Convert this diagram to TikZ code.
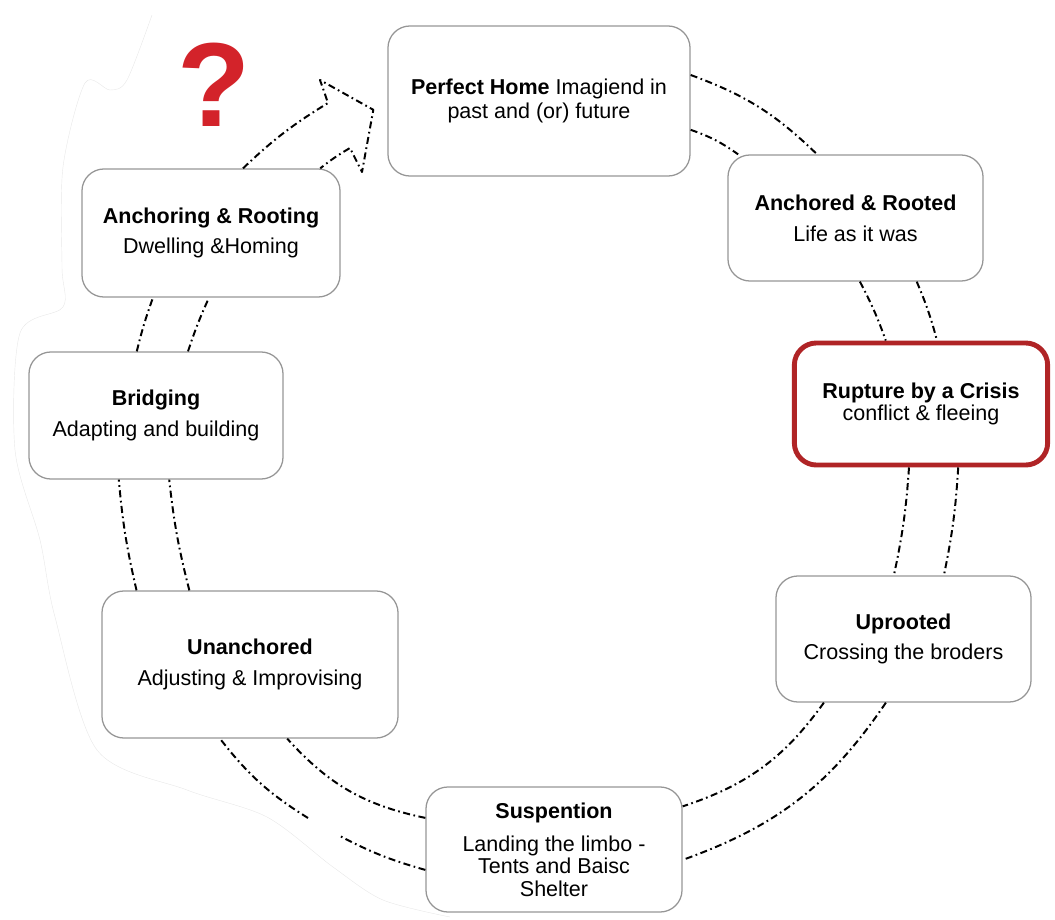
\documentclass[tikz,border=0pt]{standalone}
\usepackage{fontspec}
\setmainfont{Liberation Sans}
\definecolor{qred}{RGB}{211,35,42}
\definecolor{crisisred}{RGB}{176,36,38}
\definecolor{boxgray}{RGB}{150,150,150}

\begin{document}
\begin{tikzpicture}[x=0.025cm,y=-0.025cm,line join=round,
	stage/.style={draw=boxgray,line width=0.9pt,rounded corners=0.55cm,align=center,inner sep=2pt,font=\fontsize{15.3}{15.8}\selectfont},
	link/.style={line width=1.4pt,dash pattern=on 5pt off 2.5pt on 1.2pt off 2.5pt}]
	\useasboundingbox (0,0) rectangle (1055,920);
	% vien mo
	\draw[gray!18,line width=0.3pt] plot[smooth] coordinates {(152,15) (127,80) (110,90) (85,83) (63,167) (62,267) (63,307) (20,333) (15,450) (40,540) (55,617) (97,750) (187,790) (267,817) (333,867) (383,900) (450,917)};
	% cac o
	\node[stage,minimum width=7.55cm,minimum height=3.75cm] (home) at (539,101) {\textbf{Perfect Home} Imagiend in\\[1.5pt]past and (or) future};
	\node[stage,minimum width=6.375cm,minimum height=3.15cm] (anch) at (855.5,218) {\textbf{Anchored \& Rooted}\\[6pt]Life as it was};
	\node[stage,draw=crisisred,line width=3.5pt,minimum width=6.33cm,minimum height=3.05cm] (rupt) at (921,404) {\textbf{Rupture by a Crisis}\\conflict \& fleeing};
	\node[stage,minimum width=6.375cm,minimum height=3.15cm] (upr) at (903.5,639) {\textbf{Uprooted}\\[6pt]Crossing the broders};
	\node[stage,minimum width=6.4cm,minimum height=3.125cm] (susp) at (554,849.5) {\textbf{Suspention}\\[8pt]Landing the limbo -\\Tents and Baisc\\Shelter};
	\node[stage,minimum width=7.4cm,minimum height=3.675cm] (unan) at (250,664.5) {\textbf{Unanchored}\\[6pt]Adjusting \& Improvising};
	\node[stage,minimum width=6.35cm,minimum height=3.175cm] (brid) at (156,415.5) {\textbf{Bridging}\\[6pt]Adapting and building};
	\node[stage,minimum width=6.45cm,minimum height=3.2cm] (ancg) at (211,233) {\textbf{Anchoring \& Rooting}\\[6pt]Dwelling \&Homing};
	\node[text=qred,font=\fontsize{85}{85}\selectfont\bfseries] (qmark) at (214.5,85) {?};
	% vong noi
	\draw[link] ([yshift=0.65cm]home.east) to[bend left=12] ([xshift=-0.96cm]anch.north);
	\draw[link] ([yshift=-0.72cm]home.east) to[bend left=8] ([xshift=0.27cm]anch.north west);
	\draw[link] ([xshift=0.11cm]anch.south) to[bend left=4] ([xshift=-0.88cm]rupt.north);
	\draw[link] ([xshift=1.53cm]anch.south) to[bend left=4] ([xshift=0.4cm]rupt.north);
	\draw[link] ([xshift=-0.3cm]rupt.south) to[bend left=4] ([xshift=-0.24cm]upr.north);
	\draw[link] ([xshift=0.93cm]rupt.south) to[bend left=4] ([xshift=1.01cm]upr.north);
	\draw[link] ([xshift=-1.99cm]upr.south) to[bend left=18] ([yshift=-0.5cm]susp.north east);
	\draw[link] ([xshift=-0.44cm]upr.south) to[bend left=18] ([yshift=-0.26cm]susp.east);
	\coordinate (gapR) at (338,835);
	\coordinate (gapL) at (308,818);
	\draw[link] ([yshift=0.79cm]susp.west) to[bend left=18] ([xshift=0.93cm]unan.south);
	\draw[link] ([yshift=-0.51cm]susp.west) to[bend left=6] (gapR);
	\draw[link] (gapL) to[bend left=10] ([xshift=-0.75cm]unan.south);
	\draw[link] ([xshift=0.88cm]unan.north west) to[bend left=4] ([xshift=-0.93cm]brid.south);
	\draw[link] ([xshift=2.2cm]unan.north west) to[bend left=4] ([xshift=0.33cm]brid.south);
	\draw[link] ([xshift=-0.48cm]brid.north) to[bend left=3] ([xshift=-1.45cm]ancg.south);
	\draw[link] ([xshift=0.8cm]brid.north) to[bend left=3] ([xshift=-0.05cm]ancg.south);
	% mui ten ve nha
	\coordinate (neckL) at (328,103);
	\coordinate (barbL) at (320,80);
	\coordinate (tip) at ([xshift=-0.35cm,yshift=-0.22cm]home.west);
	\coordinate (barbR) at (362,172);
	\coordinate (neckR) at (350,148);
	\draw[link] ([xshift=0.8cm]ancg.north) to[bend left=6] (neckL) -- (barbL) -- (tip) -- (barbR) -- (neckR) to[bend right=4] ([xshift=2.73cm]ancg.north);
\end{tikzpicture}
\end{document}
